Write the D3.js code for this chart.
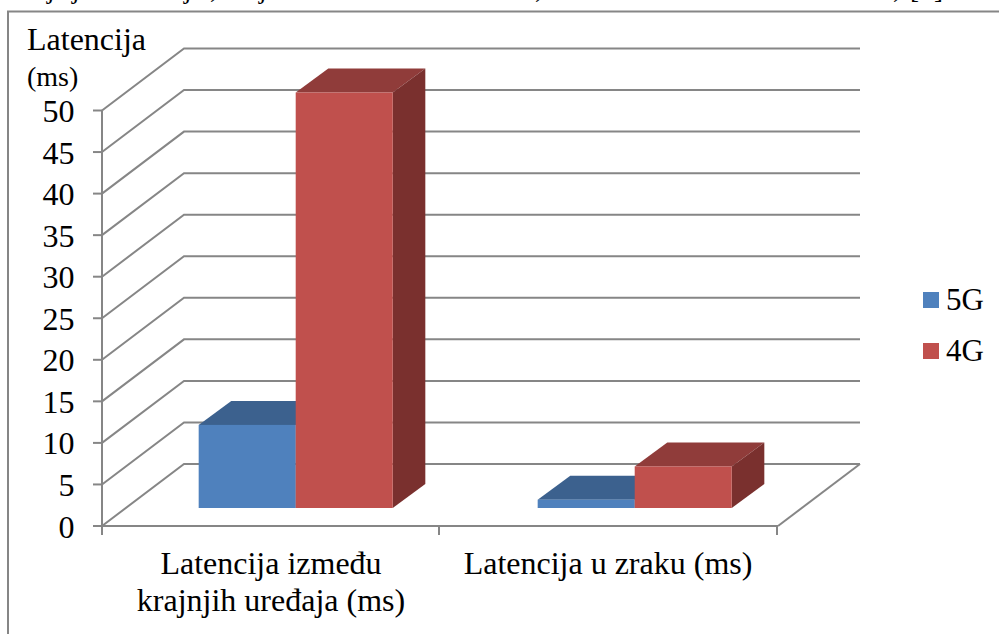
<!DOCTYPE html>
<html>
<head>
<meta charset="utf-8">
<script src="https://d3js.org/d3.v7.min.js"></script>
<style>
html, body { margin: 0; padding: 0; background: #fff; overflow: hidden; }
text { font-family: "Liberation Serif", serif; fill: #000; }
</style>
</head>
<body>
<div id="chart"></div>
<script>
var width = 999;
var height = 634;

var categories = [["Latencija između", "krajnjih uređaja (ms)"], ["Latencija u zraku (ms)"]];
var seriesNames = ["5G", "4G"];
var values5G = [10, 1];
var values4G = [50, 5];
var yTicks = [0, 5, 10, 15, 20, 25, 30, 35, 40, 45, 50];

var colors = { "5G": "#4f81bd", "4G": "#c0504d" };
var topColors = { "5G": "#3c618e", "4G": "#903c3a" };
var sideColors = { "5G": "#2f4d71", "4G": "#7a302e" };
var axisColor = "#868686";

var svg = d3.select("#chart")
    .append("svg")
    .attr("width", width)
    .attr("height", height)
    .attr("viewBox", "0 0 " + width + " " + height);

// tails of the caption line above the chart, the rest is cropped off
var captionTails = [["j", 47], ["j", 72], ["j", 184], [",", 210], ["j", 259], [",", 535], [",", 893], ["[", 910], ["]", 934]];
svg.append("g").selectAll("text")
    .data(captionTails)
    .enter()
    .append("text")
    .attr("x", function (d) { return d[1]; })
    .attr("y", -2)
    .style("font-size", "27px")
    .text(function (d) { return d[0]; });

// frame of the chart, right and bottom sides fall outside the crop
svg.append("path")
    .attr("d", "M8,634V11.5H999")
    .attr("fill", "none")
    .attr("stroke", axisColor)
    .attr("stroke-width", 2);

// bars repeat every 339px, a little more than the tick spacing
var x0 = d3.scaleBand()
    .domain([0, 1])
    .range([102, 780]);

var x1 = d3.scaleBand()
    .domain(seriesNames)
    .range([0, x0.bandwidth()])
    .paddingInner(0)
    .paddingOuter(0.747);

var y = d3.scaleLinear().domain([0, 50]).range([526, 110.5]);

// 3D offsets: wall depth and bar depth
var wallDx = 82, wallDy = -62;
var barInsetX = 24.2, barInsetY = -18;
var barDx = 32.6, barDy = -24;

var grid = svg.append("g").attr("fill", "none").attr("stroke", axisColor).attr("stroke-width", 2);

// wall gridlines
yTicks.forEach(function (t) {
    grid.append("polyline")
        .attr("points", [
            [102, y(t)],
            [102 + wallDx, y(t) + wallDy],
            [860, y(t) + wallDy]
        ].join(" "));
});

// floor right edge
grid.append("line")
    .attr("x1", 778).attr("y1", y(0))
    .attr("x2", 860).attr("y2", y(0) + wallDy);

// axes
var axes = svg.append("g").attr("fill", "none").attr("stroke", axisColor).attr("stroke-width", 2);
axes.append("line").attr("x1", 102).attr("x2", 102).attr("y1", y(50)).attr("y2", y(0));
axes.append("line").attr("x1", 102).attr("x2", 778).attr("y1", y(0)).attr("y2", y(0));
yTicks.forEach(function (t) {
    axes.append("line").attr("x1", 93).attr("x2", 102).attr("y1", y(t)).attr("y2", y(t));
});
[102, 439, 777].forEach(function (x) {
    axes.append("line").attr("x1", x).attr("x2", x).attr("y1", y(0)).attr("y2", 535);
});

// bars
var bars = svg.append("g");
function drawBar(cat, name, value) {
    var left = x0(cat) + x1(name) + barInsetX;
    var right = left + x1.bandwidth();
    var base = y(0) + barInsetY;
    var top = base - (y(0) - y(value));
    var g = bars.append("g");
    g.append("polygon")
        .attr("points", [[left, top], [left + barDx, top + barDy], [right + barDx, top + barDy], [right, top]].join(" "))
        .attr("fill", topColors[name]);
    g.append("polygon")
        .attr("points", [[right, top], [right + barDx, top + barDy], [right + barDx, base + barDy], [right, base]].join(" "))
        .attr("fill", sideColors[name]);
    g.append("rect")
        .attr("x", left).attr("y", top)
        .attr("width", x1.bandwidth()).attr("height", base - top)
        .attr("fill", colors[name]);
}
[0, 1].forEach(function (c) {
    drawBar(c, "5G", values5G[c]);
    drawBar(c, "4G", values4G[c]);
});

// y tick labels
svg.append("g").selectAll("text")
    .data(yTicks)
    .enter()
    .append("text")
    .attr("x", 74.5)
    .attr("y", function (d) { return y(d) + 11.5; })
    .attr("text-anchor", "end")
    .style("font-size", "32px")
    .text(function (d) { return d; });

// y axis title
svg.append("text").attr("x", 27).attr("y", 50).style("font-size", "32px").text("Latencija");
svg.append("text").attr("x", 27).attr("y", 85.5).style("font-size", "28px").text("(ms)");

// category labels
var centers = [271, 608];
categories.forEach(function (lines, i) {
    lines.forEach(function (line, j) {
        svg.append("text")
            .attr("x", centers[i])
            .attr("y", 574 + j * 37)
            .attr("text-anchor", "middle")
            .style("font-size", "32px")
            .text(line);
    });
});

// legend
var legendY = [292, 343];
seriesNames.forEach(function (name, i) {
    svg.append("rect")
        .attr("x", 923).attr("y", legendY[i])
        .attr("width", 16).attr("height", 16)
        .attr("fill", colors[name]);
    svg.append("text")
        .attr("x", 946).attr("y", legendY[i] + 18)
        .style("font-size", "31px")
        .text(name);
});
</script>
</body>
</html>
